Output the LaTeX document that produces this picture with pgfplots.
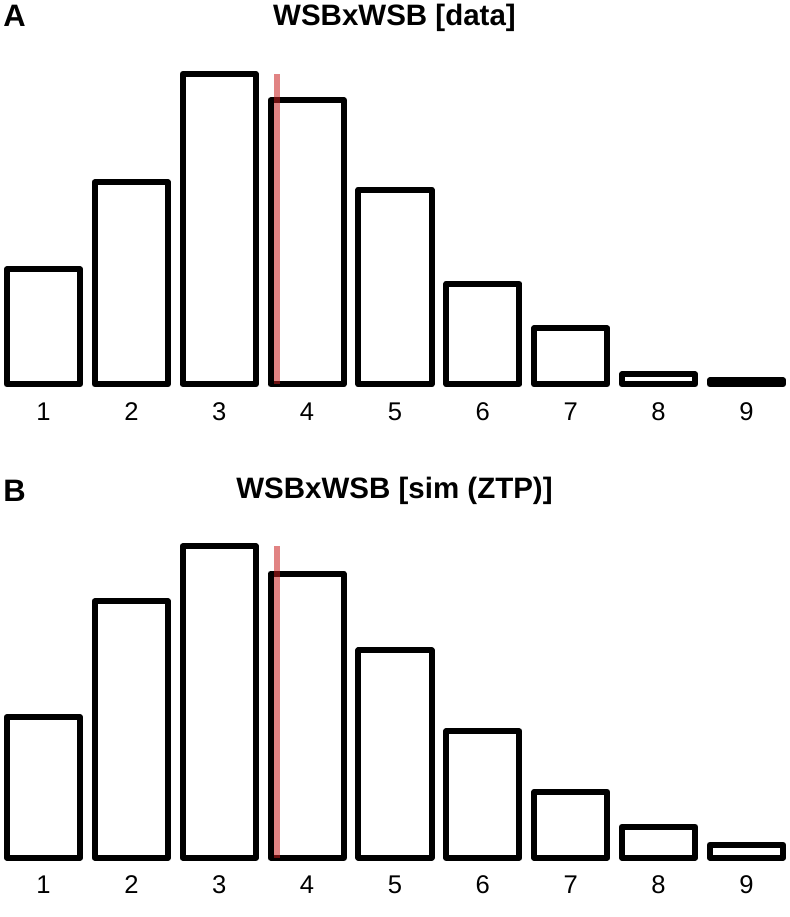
\documentclass[border=0pt]{standalone}
\usepackage{pgfplots}
\pgfplotsset{compat=1.18}
\usepackage{fontspec}
\setmainfont{Liberation Sans}
\definecolor{meanred}{RGB}{200,30,30}

\begin{document}
\begin{tikzpicture}[x=1pt,y=1pt]
\pgfplotsset{
  panel/.style={
    scale only axis, width=394.5pt, xmin=0.505, xmax=9.484, ymin=0,
    axis line style={draw=none}, ytick=\empty, xtick={1,...,9},
    major tick length=0pt,
    xticklabel style={font=\fontsize{12.8}{14}\selectfont, anchor=base, yshift=-18pt},
    /pgf/number format/assume math mode=true,
    clip=false,
    ybar, bar width=0.8333, bar shift=0pt,
    anchor=south west,
  },
  barsty/.style={draw=black, fill=white, line width=3pt, line join=round},
}
\begin{axis}[panel, at={(0pt,-192.15pt)}, ymax=310.3, height=155.15pt]
\addplot[barsty] coordinates {(1,115) (2,202) (3,310.3) (4,284) (5,194.6) (6,100.6) (7,56) (8,10) (9,4)};
\draw[meanred, opacity=0.55, line width=3pt] (axis cs:3.657,0) -- (axis cs:3.657,310.3);
\end{axis}
\begin{axis}[panel, at={(0pt,-428.85pt)}, ymax=311.4, height=155.7pt]
\addplot[barsty] coordinates {(1,140.7) (2,256.4) (3,311.4) (4,284) (5,207.4) (6,126.4) (7,65.7) (8,31) (9,13)};
\draw[meanred, opacity=0.55, line width=3pt] (axis cs:3.657,0) -- (axis cs:3.657,311.4);
\end{axis}
\node[anchor=base, font=\bfseries\fontsize{14.75}{17}\selectfont, inner sep=0pt] at (197.25,-12.5) {WSBxWSB [data]};
\node[anchor=base west, font=\bfseries\fontsize{15.5}{17}\selectfont, inner sep=0pt] at (1.5,-13) {A};
\node[anchor=base, font=\bfseries\fontsize{14.75}{17}\selectfont, inner sep=0pt] at (197.25,-249) {WSBxWSB [sim (ZTP)]};
\node[anchor=base west, font=\bfseries\fontsize{15.5}{17}\selectfont, inner sep=0pt] at (1.5,-250.5) {B};
\pgfresetboundingbox
\useasboundingbox (0,0) rectangle (394.5,-458.5);
\end{tikzpicture}
\end{document}
